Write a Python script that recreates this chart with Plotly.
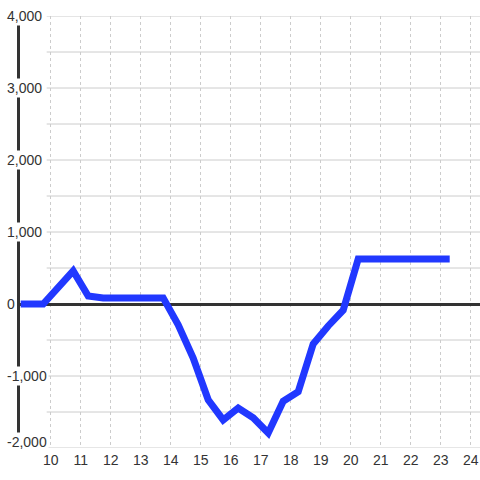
import plotly.graph_objects as go

x_vals = [9, 9.75, 10.75, 11.25, 11.75, 12.25, 12.75, 13.25, 13.75, 14.25, 14.75,
          15.25, 15.75, 16.25, 16.75, 17.25, 17.75, 18.25, 18.75, 19.25, 19.75,
          20.25, 20.75, 21.25, 21.75, 22.25, 22.75, 23.3]
y_vals = [0, 0, 460, 110, 85, 85, 85, 85, 85, -290, -750,
          -1330, -1610, -1445, -1580, -1790, -1350, -1220, -555, -305, -85,
          625, 625, 625, 625, 625, 625, 625]

x_ticks = list(range(10, 25))
y_ticks = [-2000, -1000, 0, 1000, 2000, 3000, 4000]
y_grid = [-2000, -1500, -1000, -500, 500, 1000, 1500, 2000, 2500, 3000, 3500, 4000]

grey = "#cccccc"
dark = "#333333"

fig = go.Figure()
fig.add_trace(go.Scatter(x=x_vals, y=y_vals, mode="lines",
                         line=dict(color="#2138FF", width=7), showlegend=False))

# horizontal gridlines start a bit right of the axis, behind the labels
shapes = []
for v in y_grid:
    shapes.append(dict(type="line", xref="paper", x0=0.058, x1=1, yref="y", y0=v, y1=v,
                       line=dict(color=grey, width=1), layer="below"))

# y labels sit on a white box that covers the axis line
annotations = []
for v in y_ticks:
    annotations.append(dict(xref="paper", x=-0.032, xanchor="left", yref="y", y=v,
                            text=f"{v:,}", showarrow=False, bgcolor="white",
                            font=dict(size=14, color=dark), borderpad=1,
                            yshift=6 if v == min(y_ticks) else 0))

fig.update_layout(
    width=480, height=480,
    margin=dict(l=20, r=0, t=16, b=32, autoexpand=False),
    plot_bgcolor="white", paper_bgcolor="white",
    font=dict(family="Liberation Sans, Arial", size=14, color=dark),
    shapes=shapes, annotations=annotations,
)
fig.update_xaxes(range=[8.977, 24.31], tickvals=x_ticks, showgrid=True,
                 gridcolor=grey, griddash="dot", gridwidth=1,
                 zeroline=False, showline=False, ticks="", ticklabelstandoff=2)
fig.update_yaxes(range=[-2000, 4000], showgrid=False, showticklabels=False,
                 zeroline=True, zerolinecolor=dark, zerolinewidth=3,
                 showline=True, linecolor=dark, linewidth=3, ticks="")

fig.write_html("out.html", config={"displayModeBar": False},
               post_script="document.body.style.margin='0';")
